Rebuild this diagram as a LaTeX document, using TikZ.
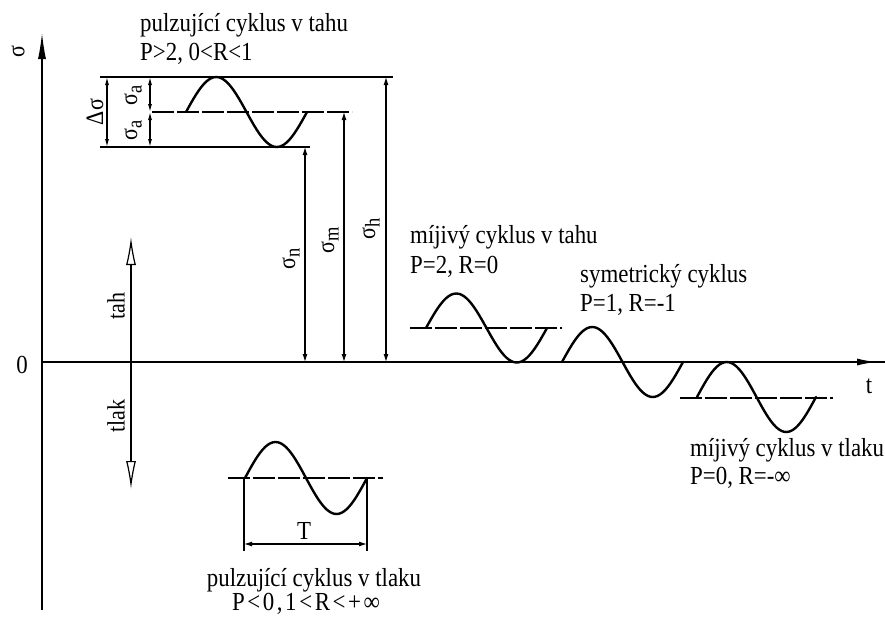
\documentclass[tikz,border=0pt]{standalone}
\usepackage{fontspec}
\setmainfont[FakeStretch=0.88]{Liberation Serif}
\usetikzlibrary{arrows.meta}
\newcommand{\mysub}[1]{\raisebox{-0.4ex}{\fontsize{21}{22}\selectfont #1}}
\begin{document}
\begin{tikzpicture}[x=1pt,y=-1pt,
  axis/.style={line width=1.2pt},
  thinline/.style={line width=1.1pt},
  wave/.style={line width=2.4pt, line join=round, line cap=round},
  meanline/.style={line width=1.1pt, dash pattern=on 22pt off 3pt},
  dimarrow/.style={line width=1.1pt, {Latex[length=8pt,width=5pt]}-{Latex[length=8pt,width=5pt]}},
  smalldim/.style={line width=1.1pt, {Latex[length=8pt,width=4pt]}-{Latex[length=8pt,width=4pt]}},
  lbl/.style={font=\fontsize{26}{30}\selectfont, inner sep=0pt, anchor=west},
  clbl/.style={font=\fontsize{26}{30}\selectfont, inner sep=0pt},
  rlbl/.style={font=\fontsize{25}{29}\selectfont, inner sep=0pt, rotate=90},
]
\useasboundingbox (0,0) rectangle (885,621);
\fill[white] (0,0) rectangle (885,621);

% axes
\coordinate (sBot) at (42,610);
\coordinate (sTop) at (42,33);
\coordinate (O) at (42,362);
\coordinate (tEnd) at (885,362);
\coordinate (tTail) at (850,362);
\coordinate (tTip) at (876,362);
\draw[axis,-{Latex[length=26pt,width=8pt]}] (sBot) -- (sTop);
\draw[axis] (O) -- (tEnd);
\draw[axis,-{Latex[length=19pt,width=7pt]}] (tTail) -- (tTip);
\node[rlbl] (sigLbl) at (18,52) {σ};
\node[clbl] (zeroLbl) at (22,365) {0};
\node[clbl] (tLbl) at (869,386) {t};

% tah / tlak
\coordinate (tahTop) at (131,237);
\coordinate (tlakBot) at (131,489);
\draw[axis,{Latex[open,length=28pt,width=10pt]}-{Latex[open,length=28pt,width=10pt]}] (tlakBot) -- (tahTop);
\node[rlbl] (tahLbl) at (116,306) {tah};
\node[rlbl] (tlakLbl) at (116,416) {tlak};

% pulzujici cyklus v tahu
\coordinate (hL) at (100,77);  \coordinate (hR) at (393,77);
\coordinate (mL) at (152,112); \coordinate (mR) at (352,112);
\coordinate (nL) at (100,147); \coordinate (nR) at (310,147);
\draw[thinline] (hL) -- (hR);
\draw[meanline] (mL) -- (mR);
\draw[thinline] (nL) -- (nR);
\draw[wave] plot[domain=0:360,samples=49] ({186+\x/360*121},{112-35*sin(\x)});
\coordinate (d1t) at (107,77);  \coordinate (d1b) at (107,147);
\coordinate (d2t) at (150,77);  \coordinate (d2m) at (150,112); \coordinate (d2b) at (150,147);
\draw[smalldim] (d1t) -- (d1b);
\draw[smalldim] (d2t) -- (d2m);
\draw[smalldim] (d2m) -- (d2b);
\node[rlbl] (dsLbl) at (95,112) {Δσ};
\node[rlbl] (saLbl1) at (133,95) {σ\mysub{a}};
\node[rlbl] (saLbl2) at (133,130) {σ\mysub{a}};
\coordinate (snB) at (305,362); \coordinate (snT) at (305,147);
\coordinate (smB) at (344,362); \coordinate (smT) at (344,112);
\coordinate (shB) at (386,362); \coordinate (shT) at (386,77);
\draw[dimarrow] (snB) -- (snT);
\draw[dimarrow] (smB) -- (smT);
\draw[dimarrow] (shB) -- (shT);
\node[rlbl] (snLbl) at (291,259) {σ\mysub{n}};
\node[rlbl] (smLbl) at (330,240) {σ\mysub{m}};
\node[rlbl] (shLbl) at (371,229) {σ\mysub{h}};
\node[lbl] (t1a) at (140,25) {pulzující cyklus v tahu};
\node[lbl] (t1b) at (140,54) {P>2, 0<R<1};

% mijivy cyklus v tahu
\coordinate (m2L) at (410,328); \coordinate (m2R) at (562,328);
\draw[meanline] (m2L) -- (m2R);
\draw[wave] plot[domain=0:360,samples=49] ({426+\x/360*121},{328-34.5*sin(\x)});
\node[lbl] (t2a) at (410,237) {míjivý cyklus v tahu};
\node[lbl] (t2b) at (410,267) {P=2, R=0};

% symetricky cyklus
\draw[wave] plot[domain=0:360,samples=49] ({562+\x/360*121},{362-35*sin(\x)});
\node[lbl] (t3a) at (580,276) {symetrický cyklus};
\node[lbl] (t3b) at (580,305) {P=1, R=-1};

% mijivy cyklus v tlaku
\coordinate (m4L) at (680,398); \coordinate (m4R) at (833,398);
\draw[meanline] (m4L) -- (m4R);
\draw[wave] plot[domain=0:360,samples=49] ({697+\x/360*119},{397-35*sin(\x)});
\node[lbl] (t4a) at (690,450) {míjivý cyklus v tlaku};
\node[lbl] (t4b) at (690,478) {P=0, R=-∞};

% pulzujici cyklus v tlaku
\coordinate (m5L) at (228,478); \coordinate (m5R) at (383,478);
\draw[meanline] (m5L) -- (m5R);
\draw[wave] plot[domain=0:360,samples=49] ({245+\x/360*122},{478-36*sin(\x)});
\coordinate (e1t) at (244,478); \coordinate (e1b) at (244,551);
\coordinate (e2t) at (367,478); \coordinate (e2b) at (367,551);
\draw[thinline] (e1t) -- (e1b);
\draw[thinline] (e2t) -- (e2b);
\coordinate (TL) at (244,544); \coordinate (TR) at (367,544);
\draw[dimarrow] (TL) -- (TR);
\node[clbl] (TLbl) at (304,531) {T};
\node[clbl] (t5a) at (314,580) {pulzující cyklus v tlaku};
\node[clbl] (t5b) at (306,604) {\addfontfeature{LetterSpace=10}P<0,1<R<+∞};
\end{tikzpicture}
\end{document}
